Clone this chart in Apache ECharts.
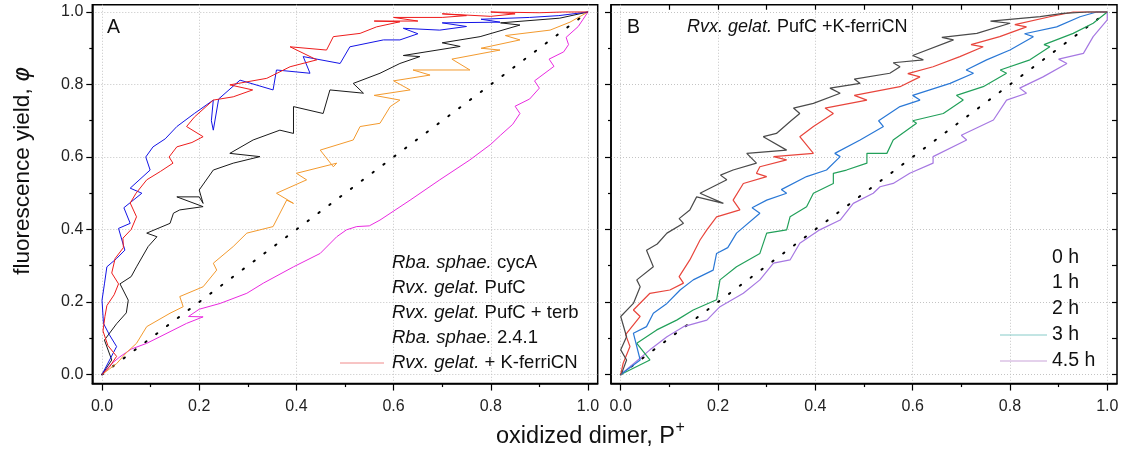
<!DOCTYPE html>
<html><head><meta charset="utf-8">
<script src="https://cdn.jsdelivr.net/npm/echarts@6/dist/echarts.min.js"></script>
<style>html,body{margin:0;padding:0;background:#fff}#c{width:1125px;height:455px}</style>
</head><body><div id="c"></div>
<script>
// ---------- DATA ----------
const majorTicks = [0, 0.2, 0.4, 0.6, 0.8, 1.0];
const minorTicks = [0.1, 0.3, 0.5, 0.7, 0.9];
const tenthTicks = [0.1, 0.2, 0.3, 0.4, 0.5, 0.6, 0.7, 0.8, 0.9];
const allTenths = [0, 0.1, 0.2, 0.3, 0.4, 0.5, 0.6, 0.7, 0.8, 0.9, 1.0];
const diagonal = [[0, 0], [1, 1]];

const legendA = ['Rba. sphae. cycA', 'Rvx. gelat. PufC', 'Rvx. gelat. PufC + terb', 'Rba. sphae. 2.4.1', 'Rvx. gelat. + K-ferriCN'];
const legendB = ['0 h', '1 h', '2 h', '3 h', '4.5 h'];

// Panel A
const redA = [[0,0],[0.015,0.02],[0.03,0.05],[0.012,0.08],[0.002,0.12],[0.006,0.16],[0.01,0.19],[0.025,0.22],[0.034,0.25],[0.02,0.28],[0.027,0.32],[0.044,0.35],[0.043,0.376],[0.06,0.40],[0.071,0.435],[0.058,0.473],[0.07,0.5],[0.092,0.537],[0.12,0.56],[0.146,0.583],[0.138,0.6],[0.154,0.628],[0.185,0.64],[0.208,0.656],[0.174,0.684],[0.19,0.71],[0.229,0.757],[0.27,0.766],[0.31,0.785],[0.263,0.799],[0.339,0.817],[0.387,0.849],[0.442,0.868],[0.387,0.904],[0.462,0.895],[0.476,0.932],[0.531,0.941],[0.565,0.959],[0.613,0.973],[0.56,0.975],[0.65,0.975],[0.6,0.985],[0.7,0.985],[0.75,0.99],[0.7,0.995],[0.8,0.988],[0.85,0.995],[0.8,1.0],[0.9,0.998],[0.95,1.0],[1,1]];
const blueA = [[0,0],[0.03,0.077],[0.015,0.11],[0.003,0.141],[0,0.205],[0.005,0.25],[0.01,0.297],[0.03,0.32],[0.047,0.343],[0.034,0.403],[0.058,0.417],[0.045,0.46],[0.082,0.5],[0.058,0.514],[0.099,0.564],[0.09,0.6],[0.105,0.628],[0.13,0.65],[0.154,0.684],[0.19,0.72],[0.229,0.757],[0.225,0.70],[0.229,0.674],[0.24,0.76],[0.284,0.812],[0.352,0.785],[0.359,0.84],[0.428,0.831],[0.414,0.877],[0.49,0.858],[0.51,0.904],[0.579,0.923],[0.613,0.923],[0.65,0.94],[0.62,0.955],[0.695,0.95],[0.75,0.96],[0.7,0.97],[0.819,0.972],[0.78,0.98],[0.88,0.985],[0.94,0.99],[1,1]];
const blackA = [[0,0],[0.02,0.04],[0.005,0.095],[0.03,0.14],[0.05,0.17],[0.054,0.205],[0.037,0.25],[0.06,0.27],[0.071,0.297],[0.095,0.353],[0.113,0.38],[0.092,0.39],[0.14,0.417],[0.147,0.445],[0.16,0.454],[0.208,0.463],[0.154,0.49],[0.2,0.49],[0.208,0.472],[0.2,0.509],[0.229,0.564],[0.27,0.583],[0.325,0.601],[0.263,0.61],[0.311,0.647],[0.366,0.674],[0.394,0.665],[0.394,0.739],[0.455,0.72],[0.469,0.785],[0.538,0.776],[0.517,0.803],[0.572,0.831],[0.613,0.858],[0.654,0.877],[0.62,0.88],[0.737,0.905],[0.7,0.915],[0.778,0.932],[0.86,0.964],[0.82,0.97],[0.942,0.983],[1,1]];
const orangeA = [[0,0],[0.03,0.03],[0.05,0.06],[0.071,0.086],[0.092,0.132],[0.14,0.169],[0.167,0.187],[0.16,0.215],[0.208,0.242],[0.236,0.288],[0.229,0.307],[0.27,0.353],[0.298,0.39],[0.352,0.408],[0.38,0.481],[0.394,0.472],[0.359,0.5],[0.421,0.537],[0.4,0.555],[0.483,0.583],[0.476,0.573],[0.449,0.619],[0.517,0.647],[0.531,0.684],[0.572,0.693],[0.593,0.739],[0.613,0.757],[0.56,0.77],[0.634,0.785],[0.6,0.81],[0.675,0.826],[0.64,0.84],[0.757,0.84],[0.72,0.87],[0.819,0.895],[0.78,0.9],[0.86,0.923],[0.83,0.935],[0.922,0.95],[0.963,0.972],[1,1]];
const magentaA = [[0,0],[0.02,0.03],[0.037,0.049],[0.06,0.07],[0.092,0.086],[0.119,0.104],[0.174,0.141],[0.208,0.159],[0.178,0.16],[0.2,0.18],[0.243,0.196],[0.298,0.224],[0.332,0.252],[0.394,0.297],[0.449,0.334],[0.483,0.38],[0.503,0.399],[0.524,0.408],[0.55,0.41],[0.572,0.426],[0.634,0.481],[0.695,0.537],[0.757,0.592],[0.8,0.635],[0.82,0.66],[0.845,0.69],[0.86,0.72],[0.85,0.74],[0.88,0.76],[0.9,0.79],[0.89,0.81],[0.92,0.84],[0.93,0.85],[0.92,0.87],[0.95,0.89],[0.96,0.91],[0.955,0.93],[0.98,0.96],[0.99,0.98],[1,1]];

// Panel B
const gray0h = [[0.002,0.003],[0.012,0.04],[0,0.068],[0.012,0.104],[0,0.16],[0.026,0.196],[0.04,0.242],[0.033,0.261],[0.067,0.297],[0.053,0.343],[0.075,0.36],[0.095,0.39],[0.129,0.417],[0.12,0.43],[0.142,0.454],[0.156,0.49],[0.211,0.472],[0.163,0.5],[0.218,0.537],[0.205,0.55],[0.231,0.564],[0.279,0.583],[0.259,0.61],[0.341,0.619],[0.293,0.656],[0.32,0.665],[0.35,0.70],[0.368,0.72],[0.355,0.735],[0.396,0.748],[0.451,0.776],[0.43,0.79],[0.492,0.803],[0.48,0.815],[0.553,0.831],[0.574,0.849],[0.56,0.86],[0.622,0.868],[0.6,0.88],[0.684,0.923],[0.66,0.93],[0.732,0.941],[0.8,0.969],[0.76,0.975],[0.862,0.987],[0.909,0.996],[0.96,1.0],[1,1]];
const red1h = [[0,0],[0.005,0.031],[0.019,0.077],[0.01,0.11],[0.04,0.16],[0.026,0.178],[0.06,0.224],[0.101,0.233],[0.129,0.252],[0.12,0.27],[0.142,0.316],[0.163,0.371],[0.177,0.399],[0.197,0.435],[0.245,0.454],[0.231,0.481],[0.252,0.527],[0.3,0.546],[0.279,0.555],[0.286,0.573],[0.341,0.592],[0.314,0.601],[0.396,0.61],[0.368,0.656],[0.396,0.684],[0.437,0.72],[0.42,0.735],[0.506,0.757],[0.48,0.77],[0.574,0.794],[0.615,0.821],[0.59,0.83],[0.642,0.849],[0.697,0.877],[0.745,0.904],[0.72,0.91],[0.779,0.932],[0.834,0.959],[0.81,0.965],[0.882,0.987],[0.93,1.0],[1,1]];
const blue2h = [[0,0],[0.04,0.04],[0.026,0.114],[0.053,0.132],[0.067,0.169],[0.095,0.196],[0.122,0.233],[0.149,0.261],[0.19,0.288],[0.197,0.334],[0.22,0.35],[0.238,0.39],[0.286,0.445],[0.27,0.46],[0.3,0.481],[0.341,0.5],[0.33,0.51],[0.382,0.546],[0.423,0.564],[0.451,0.601],[0.44,0.61],[0.492,0.647],[0.54,0.684],[0.53,0.70],[0.574,0.739],[0.615,0.757],[0.6,0.77],[0.677,0.803],[0.725,0.831],[0.71,0.84],[0.752,0.868],[0.8,0.895],[0.848,0.932],[0.83,0.94],[0.896,0.959],[0.944,0.987],[0.978,1.0],[1,1]];
const green3h = [[0,0],[0.06,0.04],[0.033,0.086],[0.074,0.123],[0.115,0.15],[0.149,0.178],[0.197,0.206],[0.204,0.261],[0.238,0.297],[0.286,0.334],[0.3,0.39],[0.341,0.399],[0.348,0.435],[0.382,0.463],[0.396,0.5],[0.437,0.527],[0.437,0.555],[0.464,0.564],[0.506,0.583],[0.506,0.61],[0.547,0.61],[0.56,0.647],[0.608,0.693],[0.6,0.70],[0.663,0.72],[0.704,0.757],[0.69,0.77],[0.745,0.794],[0.793,0.831],[0.78,0.84],[0.841,0.868],[0.882,0.904],[0.87,0.91],[0.93,0.941],[0.971,0.969],[1,1]];
const purple45h = [[0,0],[0.06,0.068],[0.095,0.104],[0.129,0.132],[0.177,0.15],[0.204,0.187],[0.252,0.224],[0.286,0.261],[0.314,0.307],[0.348,0.316],[0.368,0.362],[0.409,0.399],[0.451,0.426],[0.478,0.472],[0.519,0.5],[0.533,0.518],[0.56,0.527],[0.594,0.555],[0.642,0.583],[0.642,0.601],[0.711,0.647],[0.7,0.66],[0.766,0.702],[0.793,0.757],[0.834,0.776],[0.82,0.79],[0.868,0.821],[0.917,0.858],[0.9,0.87],[0.951,0.886],[0.971,0.932],[1.0,0.978],[1,1]];

// ---------- CHART ----------
const FF = '"Liberation Sans", Arial, sans-serif';
const chart = echarts.init(document.getElementById('c'), null, {renderer: 'canvas'});

const gA = {left: 92.3, top: 4.75, width: 505.4, height: 378.8};
const gB = {left: 611, top: 4.75, width: 506, height: 378.8};

function xMajor(gi, showLabel) {
  return {gridIndex: gi, type: 'value', min: -0.02, max: 1.02, splitNumber: 5, position: 'bottom',
    axisLine: {show: true, onZero: false, lineStyle: {color: '#000', width: 1.5}},
    axisTick: {show: true, inside: false, length: 7, customValues: majorTicks, lineStyle: {color: '#000', width: 1.2}},
    axisLabel: {show: showLabel, customValues: majorTicks, formatter: v => v.toFixed(1), margin: 15,
      fontSize: 16, fontFamily: FF, color: '#222'},
    splitLine: {show: true, lineStyle: {color: '#c4c4c4', type: [1, 2], width: 1}}};
}
function xMinor(gi, pos, ticks, inside, len) {
  return {gridIndex: gi, type: 'value', min: -0.02, max: 1.02, position: pos,
    axisLine: {show: false, onZero: false},
    axisTick: {show: true, inside: inside, length: len, customValues: ticks, lineStyle: {color: '#000', width: 1.2}},
    axisLabel: {show: false}, splitLine: {show: false}};
}
function yMajor(gi, showLabel) {
  return {gridIndex: gi, type: 'value', min: -0.025, max: 1.02, splitNumber: 5, position: 'left',
    axisLine: {show: true, onZero: false, lineStyle: {color: '#000', width: 1.5}},
    axisTick: {show: true, inside: false, length: 6, customValues: majorTicks, lineStyle: {color: '#000', width: 1.2}},
    axisLabel: {show: showLabel, customValues: majorTicks, formatter: v => v.toFixed(1), margin: 9,
      fontSize: 16, fontFamily: FF, color: '#222'},
    splitLine: {show: true, lineStyle: {color: '#c4c4c4', type: [1, 2], width: 1}}};
}
function yMinor(gi, pos, ticks, inside, len) {
  return {gridIndex: gi, type: 'value', min: -0.025, max: 1.02, position: pos,
    axisLine: {show: false, onZero: false},
    axisTick: {show: true, inside: inside, length: len, customValues: ticks, lineStyle: {color: '#000', width: 1.2}},
    axisLabel: {show: false}, splitLine: {show: false}};
}

function line(name, data, color, xi, yi, z, w) {
  return {name, type: 'line', data, xAxisIndex: xi, yAxisIndex: yi, showSymbol: false, symbol: 'none',
    lineStyle: {color, width: w || 1}, z: z || 2, animation: false, clip: true};
}
function diag(xi, yi) {
  return {name: 'diag', type: 'line', data: diagonal, xAxisIndex: xi, yAxisIndex: yi, showSymbol: false, symbol: 'none',
    lineStyle: {color: '#000', width: 2, type: [1.5, 12], cap: 'round'}, z: 1, animation: false};
}

function txt(x, y, text, size, opts) {
  return Object.assign({type: 'text', x, y, z: 100, silent: true,
    style: {text, fontSize: size, fontFamily: FF, fill: '#111', align: 'left', verticalAlign: 'middle',
      rich: {i: {fontStyle: 'italic', fontSize: size, fontFamily: FF, fill: '#111'}}}}, opts || {});
}

const legendAText = ['{i|Rba. sphae.} cycA', '{i|Rvx. gelat.} PufC', '{i|Rvx. gelat.} PufC + terb', '{i|Rba. sphae.} 2.4.1', '{i|Rvx. gelat.} + K-ferriCN'];
const legAY = [263, 288, 313, 338, 363];
const legBY = [258, 283, 309, 335, 361];

const graphics = [];
legendAText.forEach((t, k) => graphics.push(txt(392, legAY[k], t, 18.5)));
graphics.push({type: 'line', shape: {x1: 340, y1: 363, x2: 384, y2: 363}, style: {stroke: '#f08a8a', lineWidth: 1}, z: 100});
legendB.forEach((t, k) => graphics.push(txt(1052, legBY[k], t, 19.5)));
graphics.push({type: 'line', shape: {x1: 1000, y1: 335, x2: 1047, y2: 335}, style: {stroke: '#86cbc8', lineWidth: 1}, z: 100});
graphics.push({type: 'line', shape: {x1: 1000, y1: 361, x2: 1047, y2: 361}, style: {stroke: '#c9a3d8', lineWidth: 1}, z: 100});
graphics.push(txt(107, 28, 'A', 19.5));
graphics.push(txt(627, 28, 'B', 19.5));
graphics.push(txt(687, 27, '{i|Rvx. gelat.} PufC +K-ferriCN', 18));
// axis titles
graphics.push({type: 'text', x: 23, y: 171, rotation: Math.PI / 2, z: 100, silent: true,
  style: {text: 'fluorescence yield, {i|φ}', fontSize: 22.5, fontFamily: FF, fill: '#111', align: 'center', verticalAlign: 'middle',
    rich: {i: {fontStyle: 'italic', fontSize: 22.5, fontFamily: 'DejaVu Sans', fill: '#111'}}}});
// x title with superscript, positioned by measured width
const xTitle = 'oxidized dimer, P';
const cv = document.createElement('canvas').getContext('2d');
cv.font = '23.5px "Liberation Sans"';
const xw = cv.measureText(xTitle).width;
const xStart = 590 - (xw + 9) / 2;
graphics.push(txt(xStart, 437, xTitle, 23.5));
graphics.push(txt(xStart + xw + 0.5, 428, '+', 16));

const option = {
  backgroundColor: '#fff',
  animation: false,
  grid: [
    Object.assign({show: true, borderColor: '#000', borderWidth: 1.5, backgroundColor: 'transparent', containLabel: false}, gA),
    Object.assign({show: true, borderColor: '#000', borderWidth: 1.5, backgroundColor: 'transparent', containLabel: false}, gB)
  ],
  xAxis: [
    xMajor(0, true),
    xMinor(0, 'bottom', minorTicks, false, 3.5),
    xMajor(1, true),
    xMinor(1, 'bottom', minorTicks, false, 3.5),
    xMinor(1, 'top', tenthTicks, true, 5)
  ],
  yAxis: [
    yMajor(0, true),
    yMinor(0, 'left', minorTicks, false, 3),
    yMajor(1, false),
    yMinor(1, 'left', minorTicks, false, 3),
    yMinor(1, 'right', allTenths, true, 5)
  ],
  graphic: graphics,
  series: [
    diag(0, 0),
    line(legendA[3], magentaA, '#ea2ae0', 0, 0, 2),
    line(legendA[2], orangeA, '#f39a2e', 0, 0, 3),
    line(legendA[1], blackA, '#1a1a1a', 0, 0, 4),
    line(legendA[0], blueA, '#1414e6', 0, 0, 5),
    line(legendA[4], redA, '#ee1c1c', 0, 0, 6),
    diag(2, 2),
    line(legendB[4], purple45h, '#a678e2', 2, 2, 2, 1.2),
    line(legendB[3], green3h, '#22a05a', 2, 2, 3, 1.2),
    line(legendB[2], blue2h, '#2a78d6', 2, 2, 4, 1.2),
    line(legendB[1], red1h, '#e8453c', 2, 2, 5, 1.2),
    line(legendB[0], gray0h, '#4a4a4a', 2, 2, 6, 1.2)
  ]
};
chart.setOption(option);
</script>
</body></html>
